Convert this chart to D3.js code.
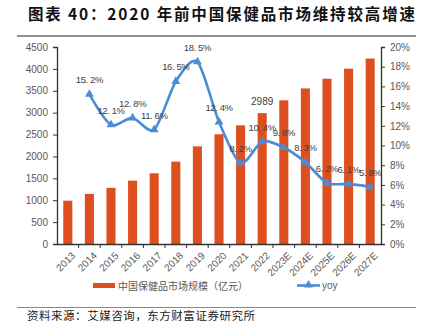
<!DOCTYPE html>
<html>
<head>
<meta charset="utf-8">
<script src="https://cdn.jsdelivr.net/npm/d3@7"></script>
<style>
body { margin: 0; background: #fff; }
text { font-family: "Noto Sans CJK SC", "Noto Sans", sans-serif; }
</style>
</head>
<body>
<script>
let years = ['2013', '2014', '2015', '2016', '2017', '2018', '2019', '2020', '2021', '2022',
    '2023E', '2024E', '2025E', '2026E', '2027E']
let marketSize = [990, 1144, 1283, 1447, 1615, 1882, 2230, 2506, 2711, 2989, 3282, 3554, 3775, 4005, 4237]
let yoyYears = years.slice(1)
let yoy = [15.2, 12.1, 12.8, 11.6, 16.5, 18.5, 12.4, 8.2, 10.4, 9.8, 8.3, 6.2, 6.1, 5.8]
let leftTicks = [0, 500, 1000, 1500, 2000, 2500, 3000, 3500, 4000, 4500]
let rightTicks = [0, 2, 4, 6, 8, 10, 12, 14, 16, 18, 20]
let labelledBar = '2022'

let width = 427
let height = 336
let plotLeft = 57, plotRight = 381, plotTop = 47, plotBottom = 244
let barColor = '#de4f1f'
let lineColor = '#4a8cd6'
let grey = '#595959'
let latin = '"Liberation Sans", Arial, sans-serif'

let svg = d3.select('body').append('svg')
    .attr('width', width)
    .attr('height', height)

// title
svg.append('text')
    .attr('x', 28).attr('y', 20)
    .attr('font-size', 15.5).attr('font-weight', 'bold').attr('fill', '#111')
    .attr('textLength', 387).attr('lengthAdjust', 'spacing')
    .text('图表 40：2020 年前中国保健品市场维持较高增速')
svg.append('line')
    .attr('x1', 17).attr('x2', 416).attr('y1', 36).attr('y2', 36)
    .attr('stroke', '#222').attr('stroke-width', 1.2)

let x = d3.scaleBand().domain(years).range([plotLeft, plotRight]).paddingInner(0.58).paddingOuter(0.29)
let yL = d3.scaleLinear().domain([0, 4500]).range([plotBottom, plotTop])
let yR = d3.scaleLinear().domain([0, 20]).range([plotBottom, plotTop])

// bars
svg.selectAll('rect.bar')
    .data(years)
    .enter().append('rect')
    .attr('class', 'bar')
    .attr('x', d => x(d))
    .attr('width', x.bandwidth())
    .attr('y', (d, i) => yL(marketSize[i]))
    .attr('height', (d, i) => plotBottom - yL(marketSize[i]))
    .attr('fill', barColor)

let li = years.indexOf(labelledBar)
svg.append('text')
    .attr('x', x(labelledBar) + x.bandwidth() / 2)
    .attr('y', yL(marketSize[li]) - 8)
    .attr('text-anchor', 'middle')
    .attr('font-size', 10).attr('fill', '#404040')
    .style('font-family', latin)
    .text(marketSize[li])

// axes
let axisL = svg.append('g')
    .attr('transform', `translate(${plotLeft},0)`)
    .call(d3.axisLeft(yL).tickValues(leftTicks).tickSize(4).tickPadding(5).tickFormat(d3.format('d')))
let axisR = svg.append('g')
    .attr('transform', `translate(${plotRight},0)`)
    .call(d3.axisRight(yR).tickValues(rightTicks).tickSize(4).tickPadding(5).tickFormat(d => d + '%'))
let axisB = svg.append('g')
    .attr('transform', `translate(0,${plotBottom})`)
    .call(d3.axisBottom(x).tickSize(0).tickPadding(6))

for (let g of [axisL, axisR, axisB]) {
    g.select('.domain').attr('stroke', '#333').attr('stroke-width', 1.3)
    g.selectAll('.tick line').attr('stroke', '#333')
    g.selectAll('text').attr('fill', grey).attr('font-size', 10)
        .style('font-family', latin)
}
axisB.selectAll('.tick text')
    .attr('text-anchor', 'end')
    .attr('dx', 0).attr('dy', 0)
    .attr('transform', 'translate(4,8) rotate(-45)')

// category boundary ticks
svg.selectAll('line.btick')
    .data(d3.range(1, years.length))
    .enter().append('line')
    .attr('class', 'btick')
    .attr('x1', i => plotLeft + i * x.step())
    .attr('x2', i => plotLeft + i * x.step())
    .attr('y1', plotBottom).attr('y2', plotBottom + 4)
    .attr('stroke', '#333')

// yoy line
let cx = d => x(d) + x.bandwidth() / 2
let line = d3.line()
    .x((d, i) => cx(yoyYears[i]))
    .y(d => yR(d))
    .curve(d3.curveCardinal.tension(0.2))
svg.append('path')
    .datum(yoy)
    .attr('d', line)
    .attr('fill', 'none')
    .attr('stroke', lineColor)
    .attr('stroke-width', 2.6)

let tri = d3.symbol().type(d3.symbolTriangle).size(34)
svg.selectAll('path.mark')
    .data(yoy)
    .enter().append('path')
    .attr('class', 'mark')
    .attr('d', tri)
    .attr('transform', (d, i) => `translate(${cx(yoyYears[i])},${yR(d)})`)
    .attr('fill', lineColor)

svg.selectAll('text.yoy')
    .data(yoy)
    .enter().append('text')
    .attr('class', 'yoy')
    .attr('x', (d, i) => cx(yoyYears[i]))
    .attr('y', d => yR(d) - 11)
    .attr('text-anchor', 'middle')
    .attr('font-size', 9.5).attr('fill', '#404040')
    .attr('letter-spacing', -0.4)
    .style('font-family', latin)
    .text(d => d.toFixed(1).replace('.', '. ') + '%')

// legend
svg.append('rect')
    .attr('x', 93).attr('y', 283).attr('width', 22).attr('height', 5)
    .attr('fill', barColor)
svg.append('text')
    .attr('x', 118).attr('y', 289.5)
    .attr('font-size', 10).attr('fill', grey)
    .attr('textLength', 130).attr('lengthAdjust', 'spacing')
    .text('中国保健品市场规模（亿元）')
svg.append('line')
    .attr('x1', 297).attr('x2', 320).attr('y1', 285.5).attr('y2', 285.5)
    .attr('stroke', lineColor).attr('stroke-width', 2.6)
svg.append('path')
    .attr('d', tri)
    .attr('transform', 'translate(308.5,285)')
    .attr('fill', lineColor)
svg.append('text')
    .attr('x', 322).attr('y', 289)
    .attr('font-size', 10).attr('fill', grey)
    .style('font-family', latin)
    .text('yoy')

// source
svg.append('line')
    .attr('x1', 17).attr('x2', 416).attr('y1', 307.5).attr('y2', 307.5)
    .attr('stroke', '#888').attr('stroke-width', 1.2)
svg.append('text')
    .attr('x', 27).attr('y', 320)
    .attr('font-size', 11.5).attr('fill', '#222')
    .attr('textLength', 228).attr('lengthAdjust', 'spacing')
    .text('资料来源：艾媒咨询，东方财富证券研究所')
</script>
</body>
</html>
